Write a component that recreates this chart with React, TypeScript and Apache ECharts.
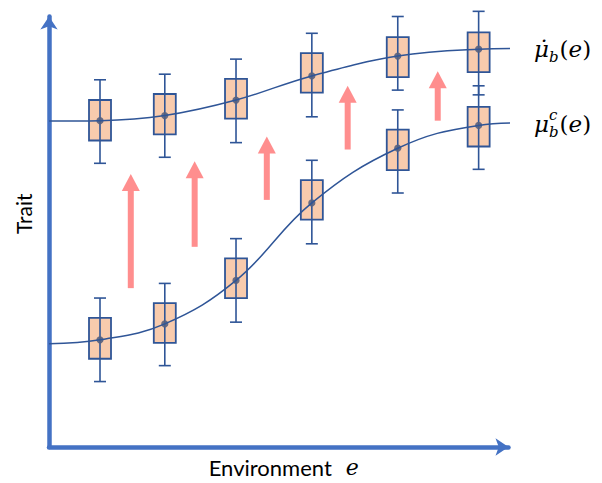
import React, { useEffect, useRef } from "react";
import * as echarts from "echarts";

// Environment positions of the box plots
const envPositions = [1.11, 2.52, 4.07, 5.72, 7.59, 9.35];

// Upper series (mu-dot_b(e))
const upperMin = [6.59, 6.73, 7.07, 7.67, 8.29, 8.18];
const upperQ1 = [7.12, 7.26, 7.63, 8.23, 8.59, 8.71];
const upperMed = [7.58, 7.7, 8.06, 8.62, 9.08, 9.24];
const upperQ3 = [8.06, 8.2, 8.55, 9.15, 9.52, 9.63];
const upperMax = [8.53, 8.66, 9.01, 9.61, 10.0, 10.12];

// Lower series (mu_b^c(e))
const lowerMin = [1.52, 1.89, 2.9, 4.72, 5.9, 6.45];
const lowerQ1 = [2.05, 2.42, 3.46, 5.28, 6.43, 6.98];
const lowerMed = [2.49, 2.86, 3.87, 5.67, 6.94, 7.47];
const lowerQ3 = [3.0, 3.34, 4.38, 6.2, 7.37, 7.9];
const lowerMax = [3.46, 3.8, 4.84, 6.66, 7.83, 8.39];

// Reaction norm curves
const curveX = [0, 1.11, 2.52, 4.07, 5.72, 7.59, 9.35, 10.33];
const upperCurveY = [7.57, 7.58, 7.7, 8.06, 8.62, 9.08, 9.24, 9.26];
const lowerCurveY = [2.4, 2.49, 2.86, 3.87, 5.67, 6.94, 7.47, 7.53];

// Shift arrows
const arrowX = [1.78, 3.17, 4.74, 6.5, 8.46];
const arrowFrom = [3.69, 4.65, 5.74, 6.91, 7.58];
const arrowTo = [6.34, 6.64, 7.21, 8.39, 8.73];

const AXIS_COLOR = "#4472C4";
const BOX_STROKE = "#2F5597";
const BOX_FILL = "#F8CBAD";
const ARROW_COLOR = "#FF8E8E";
const MATH_FONT = "DejaVu Serif";
const SANS_FONT = "Lato";

function boxRows(mins: number[], q1: number[], med: number[], q3: number[], max: number[]) {
  return envPositions.map((e, i) => [e, mins[i], q1[i], med[i], q3[i], max[i]]);
}

const renderBox = (params: any, api: any) => {
  const x = api.value(0);
  const pMin = api.coord([x, api.value(1)]);
  const pQ1 = api.coord([x, api.value(2)]);
  const pMed = api.coord([x, api.value(3)]);
  const pQ3 = api.coord([x, api.value(4)]);
  const pMax = api.coord([x, api.value(5)]);
  const bw = 22;
  const cw = 12;
  const lineStyle = { stroke: BOX_STROKE, lineWidth: 1.6 };
  return {
    type: "group",
    children: [
      {
        type: "rect",
        shape: { x: pQ3[0] - bw / 2, y: pQ3[1], width: bw, height: pQ1[1] - pQ3[1] },
        style: { fill: BOX_FILL, stroke: BOX_STROKE, lineWidth: 1.8 },
      },
      { type: "line", shape: { x1: pMin[0], y1: pMin[1], x2: pMax[0], y2: pMax[1] }, style: lineStyle },
      { type: "line", shape: { x1: pMin[0] - cw / 2, y1: pMin[1], x2: pMin[0] + cw / 2, y2: pMin[1] }, style: lineStyle },
      { type: "line", shape: { x1: pMax[0] - cw / 2, y1: pMax[1], x2: pMax[0] + cw / 2, y2: pMax[1] }, style: lineStyle },
      { type: "circle", z2: 10, shape: { cx: pMed[0], cy: pMed[1], r: 3.6 }, style: { fill: "#56607E", opacity: 0.9 } },
    ],
  };
};

const renderArrow = (params: any, api: any) => {
  const x = api.value(0);
  const p0 = api.coord([x, api.value(1)]);
  const p1 = api.coord([x, api.value(2)]);
  const headH = 17;
  const headW = 18;
  const shaftW = 6;
  return {
    type: "group",
    children: [
      {
        type: "rect",
        shape: { x: p0[0] - shaftW / 2, y: p1[1] + headH - 1, width: shaftW, height: p0[1] - p1[1] - headH + 1 },
        style: { fill: ARROW_COLOR },
      },
      {
        type: "polygon",
        shape: { points: [[p1[0], p1[1]], [p1[0] - headW / 2, p1[1] + headH], [p1[0] + headW / 2, p1[1] + headH]] },
        style: { fill: ARROW_COLOR },
      },
    ],
  };
};

const mathRich = {
  mu: { fontFamily: MATH_FONT, fontStyle: "italic", fontSize: 23, color: "#000", lineHeight: 32, verticalAlign: "middle" },
  sub: { fontFamily: MATH_FONT, fontStyle: "italic", fontSize: 15, color: "#000", lineHeight: 32, verticalAlign: "bottom", padding: [0, 1, 0, 0] },
  sup: { fontFamily: MATH_FONT, fontStyle: "italic", fontSize: 15, color: "#000", lineHeight: 32, verticalAlign: "top", width: 0 },
  p: { fontFamily: MATH_FONT, fontSize: 23, color: "#000", lineHeight: 32, verticalAlign: "middle" },
  e: { fontFamily: MATH_FONT, fontStyle: "italic", fontSize: 23, color: "#000", lineHeight: 32, verticalAlign: "middle" },
};

export default function App() {
  const ref = useRef<HTMLDivElement>(null);

  useEffect(() => {
    if (!ref.current) return;
    const chart = echarts.init(ref.current, null, { renderer: "svg" });
    const option: any = {
      animation: false,
      backgroundColor: "#fff",
      grid: { left: 49, right: 93.5, top: 16.5, bottom: 33 },
      xAxis: {
        type: "value",
        min: 0,
        max: 10,
        axisLabel: { show: false },
        axisTick: { show: false },
        splitLine: { show: false },
        axisLine: {
          symbol: ["none", "arrow"],
          symbolSize: [13, 13],
          lineStyle: { color: AXIS_COLOR, width: 4.5 },
        },
        name: "{t|Environment}{e|e}",
        nameLocation: "middle",
        nameGap: 9,
        nameTextStyle: {
          padding: [0, 0, 0, 10],
          verticalAlign: "top",
          rich: {
            t: { fontFamily: SANS_FONT, fontSize: 22, color: "#000" },
            e: { fontFamily: MATH_FONT, fontStyle: "italic", fontSize: 22, color: "#000", padding: [0, 0, 0, 14] },
          },
        },
      },
      yAxis: {
        type: "value",
        min: 0,
        max: 10,
        axisLabel: { show: false },
        axisTick: { show: false },
        splitLine: { show: false },
        axisLine: {
          symbol: ["none", "arrow"],
          symbolSize: [13, 13],
          lineStyle: { color: AXIS_COLOR, width: 4.5 },
        },
        name: "Trait",
        nameLocation: "middle",
        nameRotate: 90,
        nameGap: 15,
        nameTextStyle: { fontFamily: SANS_FONT, fontSize: 21, color: "#000", padding: [0, 0, 0, 36] },
      },
      series: [
        {
          type: "custom",
          name: "arrows",
          z: 1,
          renderItem: renderArrow,
          data: arrowX.map((x, i) => [x, arrowFrom[i], arrowTo[i]]),
          clip: false,
        },
        {
          type: "custom",
          name: "upperBoxes",
          z: 2,
          renderItem: renderBox,
          data: boxRows(upperMin, upperQ1, upperMed, upperQ3, upperMax),
          clip: false,
        },
        {
          type: "custom",
          name: "lowerBoxes",
          z: 2,
          renderItem: renderBox,
          data: boxRows(lowerMin, lowerQ1, lowerMed, lowerQ3, lowerMax),
          clip: false,
        },
        {
          type: "line",
          name: "upperCurve",
          z: 3,
          smooth: 0.4,
          symbol: "none",
          clip: false,
          lineStyle: { color: BOX_STROKE, width: 1.5 },
          data: curveX.map((x, i) => [x, upperCurveY[i]]),
          endLabel: {
            show: true,
            distance: 24,
            formatter: "{mu|\u03BC\u0307}{sub|b}{p|(}{e|e}{p|)}",
            rich: mathRich,
          },
        },
        {
          type: "line",
          name: "lowerCurve",
          z: 3,
          smooth: 0.4,
          symbol: "none",
          clip: false,
          lineStyle: { color: BOX_STROKE, width: 1.5 },
          data: curveX.map((x, i) => [x, lowerCurveY[i]]),
          endLabel: {
            show: true,
            distance: 24,
            formatter: "{mu|\u03BC}{sup|c}{sub|b}{p|(}{e|e}{p|)}",
            rich: mathRich,
          },
        },
      ],
    };
    chart.setOption(option);
    return () => chart.dispose();
  }, []);

  return <div ref={ref} style={{ width: 602, height: 483, position: "absolute", left: 0, top: 0 }} />;
}
